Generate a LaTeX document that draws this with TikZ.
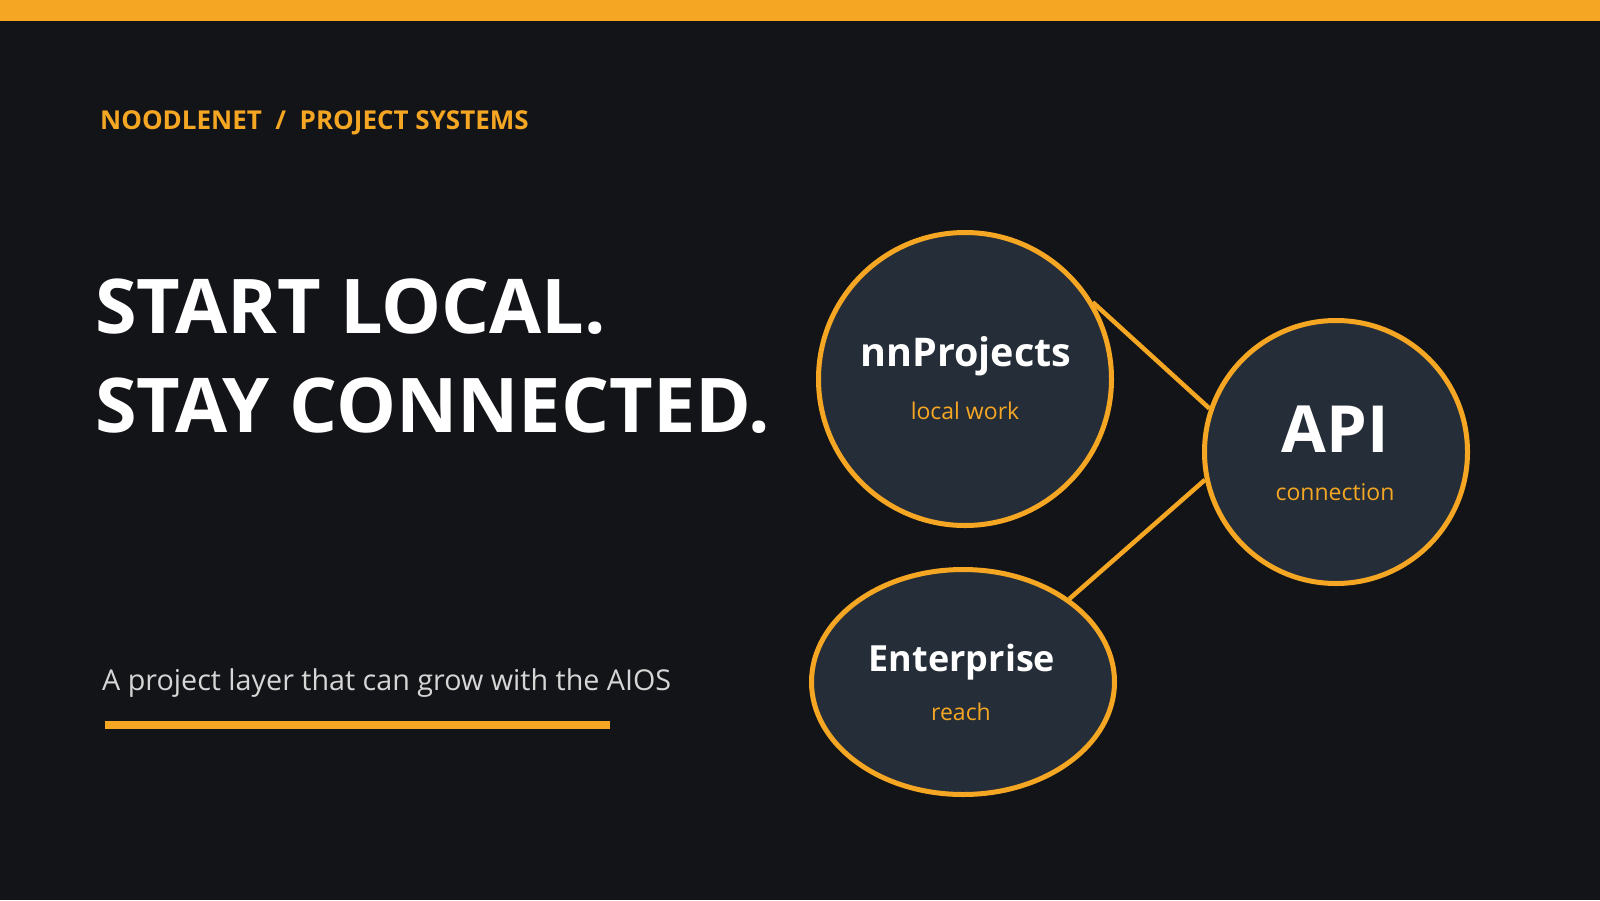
\documentclass[tikz,border=0pt]{standalone}
\usepackage{fontspec}
\setmainfont{Open Sans}
\usepackage{tikz}
\usetikzlibrary{shapes.geometric}
\definecolor{noodleorange}{HTML}{F5A623}
\definecolor{slatebg}{HTML}{131418}
\definecolor{bubblefill}{HTML}{252E38}
\definecolor{softgray}{HTML}{D6D6D6}

\tikzset{
  bubble/.style={circle, draw=noodleorange, fill=bubblefill, line width=5pt, inner sep=0pt},
  oval/.style={ellipse, draw=noodleorange, fill=bubblefill, line width=5pt, inner sep=0pt},
  bubbletitle/.style={text=white, font=\fontsize{39.5}{44}\selectfont\bfseries, anchor=base, inner sep=0pt},
  bubblesub/.style={text=noodleorange, font=\fontsize{23}{28}\selectfont, anchor=base, inner sep=0pt},
  headline/.style={text=white, font=\fontsize{75.5}{90}\selectfont\bfseries, anchor=base west, inner sep=0pt},
  link/.style={draw=noodleorange, line width=4.5pt},
}

\begin{document}
\begin{tikzpicture}[x=1pt, y=-1pt]
    \fill[slatebg] (0,0) rectangle (1600,900);
    \useasboundingbox (0,0) rectangle (1600,900);
    \fill[noodleorange] (0,0) rectangle (1600,21);

    \node[text=noodleorange, font=\fontsize{26}{30}\selectfont\bfseries, anchor=base west, inner sep=0pt]
      (crumb) at (100,129) {NOODLENET\ \ /\ \ PROJECT SYSTEMS};
    \node[headline] (head1) at (95,333) {START LOCAL.};
    \node[headline] (head2) at (95,432) {STAY CONNECTED.};
    \node[text=softgray, font=\fontsize{28.7}{34}\selectfont, anchor=base west, inner sep=0pt]
      (tagline) at (102,690) {A project layer that can grow with the AIOS};
    \fill[noodleorange] (105,721) rectangle (610,729);

    \node[bubble, minimum size=293pt] (proj) at (965,379) {};
    \node[bubble, minimum size=263pt] (api) at (1336,452) {};
    \node[oval, minimum width=303pt, minimum height=225pt] (ent) at (963,682) {};

    \draw[link] (proj.31) -- (api.161);
    \draw[link] (api.192) -- (ent.38);

    \node[bubbletitle] (projT) at (966,366) {nnProjects};
    \node[bubblesub] (projS) at (965,419) {local work};
    \node[bubbletitle, font=\fontsize{65}{72}\selectfont\bfseries] (apiT) at (1335,452) {API};
    \node[bubblesub] (apiS) at (1335,500) {connection};
    \node[bubbletitle, font=\fontsize{36}{42}\selectfont\bfseries] (entT) at (962,671) {Enterprise};
    \node[bubblesub] (entS) at (961,720) {reach};
\end{tikzpicture}
\end{document}
